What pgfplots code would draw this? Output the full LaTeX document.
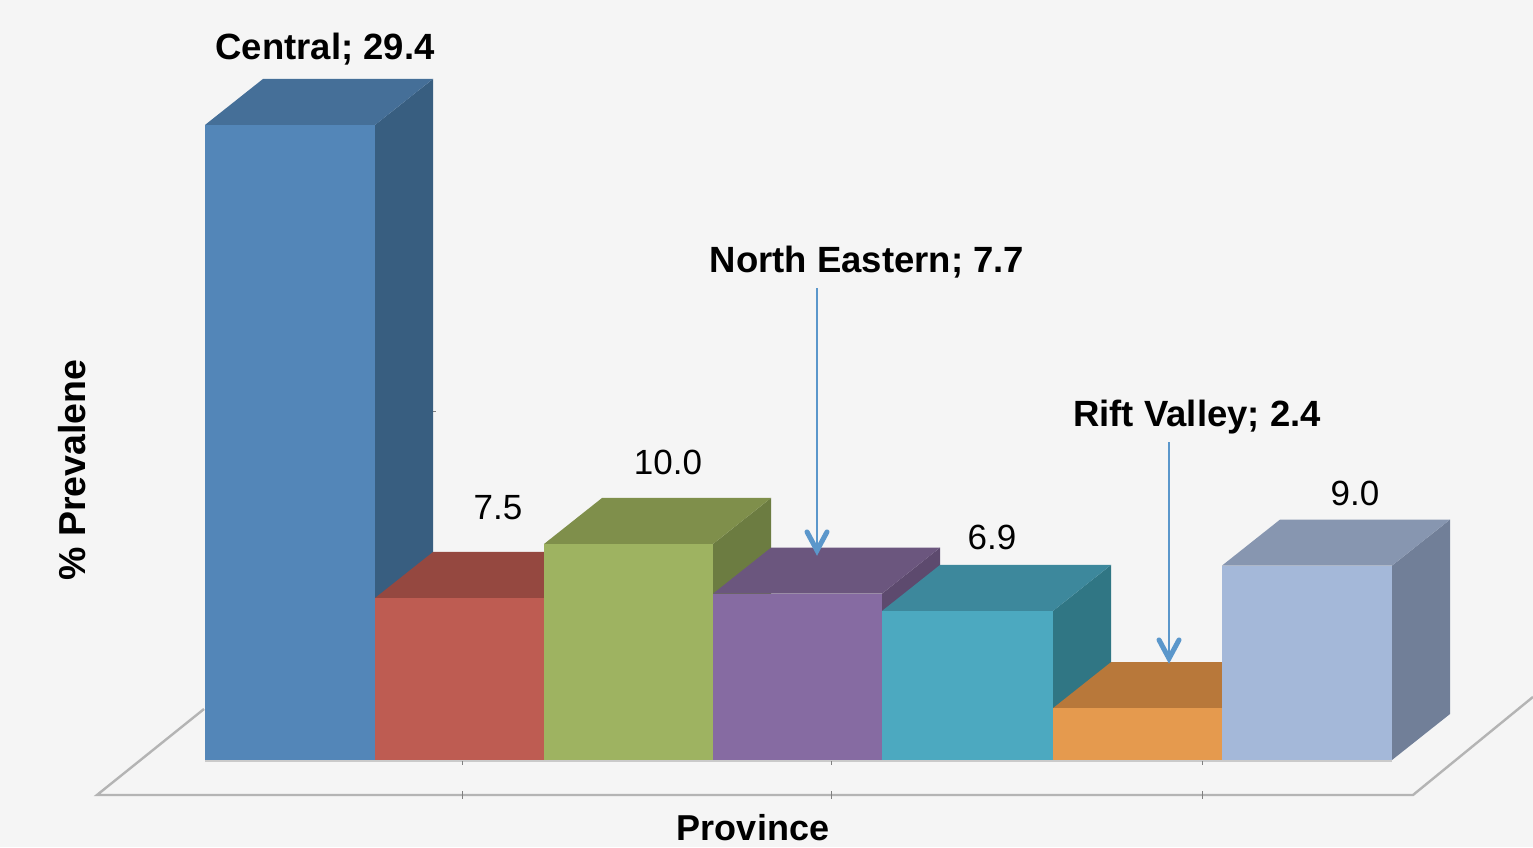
\documentclass[border=0pt]{standalone}
\usepackage{pgfplots}
\pgfplotsset{compat=1.18}
\usepackage{fontspec}
\setmainfont{Liberation Sans}
\definecolor{pagebg}{HTML}{F5F5F5}
\definecolor{floorline}{HTML}{B4B4B4}
\definecolor{arrowblue}{HTML}{5B97CB}
% front, top and side shades of each bar
\definecolor{blueF}{HTML}{5386B8}\definecolor{blueT}{HTML}{456F98}\definecolor{blueS}{HTML}{385E80}
\definecolor{redF}{HTML}{BE5C52}\definecolor{redT}{HTML}{954840}\definecolor{redS}{HTML}{803E38}
\definecolor{greenF}{HTML}{9EB361}\definecolor{greenT}{HTML}{7F8F4B}\definecolor{greenS}{HTML}{6C7C41}
\definecolor{purpleF}{HTML}{866BA2}\definecolor{purpleT}{HTML}{6B567E}\definecolor{purpleS}{HTML}{5D4A6E}
\definecolor{tealF}{HTML}{4CA9C0}\definecolor{tealT}{HTML}{3D889C}\definecolor{tealS}{HTML}{307684}
\definecolor{orangeF}{HTML}{E59A4E}\definecolor{orangeT}{HTML}{B8783A}\definecolor{orangeS}{HTML}{A0682F}
\definecolor{paleF}{HTML}{A4B8D9}\definecolor{paleT}{HTML}{8796B0}\definecolor{paleS}{HTML}{717F98}

% One prism: x-left, x-right, value, colour stem.
% The depth of every prism is 58 units across and 2.13 value units up.
\newcommand{\prism}[4]{%
  \pgfmathsetmacro{\xrb}{#2+58}%
  \pgfmathsetmacro{\xlb}{#1+58}%
  \pgfmathsetmacro{\ytop}{#3+2.13}%
  \addplot[fill=#4S,draw=none] coordinates {(#2,0) (\xrb,2.13) (\xrb,\ytop) (#2,#3)} --cycle;
  \addplot[fill=#4T,draw=none] coordinates {(#1,#3) (#2,#3) (\xrb,\ytop) (\xlb,\ytop)} --cycle;
  \addplot[fill=#4F,draw=none] coordinates {(#1,0) (#2,0) (#2,#3) (#1,#3)} --cycle;
}
\newcommand{\lab}[1]{\fontsize{#1}{#1}\selectfont}

\begin{document}
\begin{tikzpicture}
\path[use as bounding box,fill=pagebg] (0,0) rectangle (1533pt,847pt);
\begin{axis}[
  at={(0,0)},anchor=south west,
  scale only axis,width=1533pt,height=847pt,
  xmin=0,xmax=1533,ymin=-4.028,ymax=35.185,
  hide axis,clip=true,
]
% chart floor
\addplot[floorline,line width=2.4pt,line join=miter] coordinates {(204,2.36) (97,-1.62) (1413,-1.62) (1533,2.92)};
% base edge of the bars
\addplot[floorline!70!white,line width=2pt] coordinates {(205,-0.03) (1392,-0.03)};
% province ticks
\addplot[gray,line width=0.7pt,forget plot] coordinates {(462,-1.45) (462,-1.8)};
\addplot[gray,line width=0.7pt,forget plot] coordinates {(831,-1.45) (831,-1.8)};
\addplot[gray,line width=0.7pt,forget plot] coordinates {(1202,-1.45) (1202,-1.8)};
\addplot[gray,line width=0.7pt,forget plot] coordinates {(462,-0.05) (462,-0.25)};
\addplot[gray,line width=0.7pt,forget plot] coordinates {(831,-0.05) (831,-0.25)};
\addplot[gray,line width=0.7pt,forget plot] coordinates {(1202,-0.05) (1202,-0.25)};
\addplot[gray,line width=0.7pt,forget plot] coordinates {(433,16.12) (436,16.12)};

% bars, left to right
\prism{205}{375}{29.4}{blue}
\prism{375}{544}{7.5}{red}
\prism{544}{713}{10.0}{green}
\prism{713}{882}{7.7}{purple}
\prism{882}{1053}{6.9}{teal}
\prism{1053}{1222}{2.4}{orange}
\prism{1222}{1392}{9.0}{pale}

% leader arrows
\addplot[arrowblue,line width=2.7pt] coordinates {(817,21.85) (817,9.7)};
\addplot[arrowblue,line width=5pt,line cap=round,line join=miter] coordinates {(807,10.56) (817,9.7) (827,10.56)};
\addplot[arrowblue,line width=2.7pt] coordinates {(1169,14.72) (1169,4.7)};
\addplot[arrowblue,line width=5pt,line cap=round,line join=miter] coordinates {(1159,5.56) (1169,4.7) (1179,5.56)};

% value labels
\node[font=\lab{36.5}\bfseries] at (axis cs:325,32.92) {Central; 29.4};
\node[font=\lab{35}] at (axis cs:498,11.67) {7.5};
\node[font=\lab{35}] at (axis cs:668,13.78) {10.0};
\node[font=\lab{36.5}\bfseries] at (axis cs:867,23.05) {North Eastern; 7.7};
\node[font=\lab{35}] at (axis cs:992,10.32) {6.9};
\node[font=\lab{36.5}\bfseries] at (axis cs:1197,15.88) {Rift Valley; 2.4};
\node[font=\lab{35}] at (axis cs:1355,12.36) {9.0};

% axis titles
\node[font=\lab{36}\bfseries,anchor=base,inner sep=0pt] at (axis cs:753,-3.72) {Province};
\node[font=\lab{37.5}\bfseries,rotate=90] at (axis cs:72,13.43) {\% Prevalene};
\end{axis}
\end{tikzpicture}
\end{document}
